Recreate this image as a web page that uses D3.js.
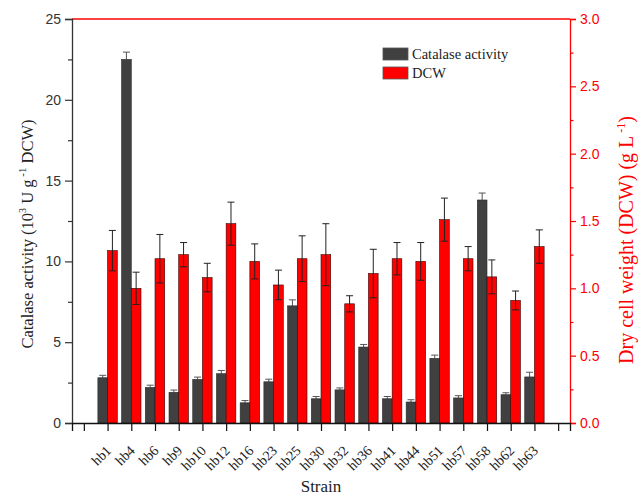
<!DOCTYPE html>
<html>
<head>
<meta charset="utf-8">
<script src="https://cdn.jsdelivr.net/npm/d3@7"></script>
<style>
  body { margin: 0; background: #fff; }
  svg { display: block; }
</style>
</head>
<body>
<svg id="chart" width="640" height="496"></svg>
<script>
// Strains and measured values
const strains = ["hb1","hb4","hb6","hb9","hb10","hb12","hb16","hb23","hb25","hb30","hb32","hb36","hb41","hb44","hb51","hb57","hb58","hb62","hb63"];
const catalase = [2.8, 22.5, 2.2, 1.9, 2.7, 3.05, 1.25, 2.55, 7.25, 1.5, 2.05, 4.7, 1.5, 1.3, 4.0, 1.55, 13.8, 1.75, 2.85];
const catalaseErr = [0.15, 0.45, 0.14, 0.14, 0.14, 0.2, 0.14, 0.16, 0.37, 0.14, 0.12, 0.16, 0.14, 0.14, 0.2, 0.14, 0.43, 0.12, 0.29];
const dcw = [1.28, 1.0, 1.22, 1.25, 1.08, 1.48, 1.2, 1.025, 1.22, 1.25, 0.885, 1.11, 1.22, 1.2, 1.51, 1.22, 1.085, 0.91, 1.31];
const dcwErr = [0.15, 0.12, 0.18, 0.09, 0.106, 0.16, 0.13, 0.11, 0.17, 0.23, 0.06, 0.18, 0.12, 0.14, 0.16, 0.09, 0.126, 0.07, 0.124];
const leftTicks = [0, 5, 10, 15, 20, 25];
const rightTicks = [0, 0.5, 1.0, 1.5, 2.0, 2.5, 3.0];

const svg = d3.select("#chart");
const plot = { left: 72, right: 570, top: 19, bottom: 423 };
const grey = "#333333", red = "#ff0000";
const serif = "'Liberation Serif', 'Times New Roman', serif";
const sans = "Arial, 'Liberation Sans', sans-serif";

// Category positions: one empty slot at each end of the axis
const x = d3.scaleLinear().domain([-0.5, strains.length + 1.5]).range([plot.left, plot.right]);
const yL = d3.scaleLinear().domain([0, 25]).range([plot.bottom, plot.top]);
const yR = d3.scaleLinear().domain([0, 3]).range([plot.bottom, plot.top]);
const barW = 9.7;

// Top frame line
svg.append("line").attr("x1", plot.left).attr("x2", plot.right).attr("y1", plot.top).attr("y2", plot.top)
  .attr("stroke", red).attr("stroke-width", 1.3);

// Bars: catalase left of the tick, DCW right of it
const g = svg.append("g");
strains.forEach((s, i) => {
  const cx = x(i + 1);
  // catalase error bar (upper half)
  g.append("line").attr("x1", cx - barW / 2).attr("x2", cx - barW / 2)
    .attr("y1", yL(catalase[i])).attr("y2", yL(catalase[i] + catalaseErr[i]))
    .attr("stroke", "#555").attr("stroke-width", 1);
  g.append("line").attr("x1", cx - barW / 2 - 3.5).attr("x2", cx - barW / 2 + 3.5)
    .attr("y1", yL(catalase[i] + catalaseErr[i])).attr("y2", yL(catalase[i] + catalaseErr[i]))
    .attr("stroke", "#555").attr("stroke-width", 1);
  g.append("rect").attr("x", cx - barW).attr("y", yL(catalase[i]))
    .attr("width", barW).attr("height", plot.bottom - yL(catalase[i]))
    .attr("fill", "#404040").attr("stroke", "#2a2a2a").attr("stroke-width", 0.6);
  g.append("rect").attr("x", cx).attr("y", yR(dcw[i]))
    .attr("width", barW).attr("height", plot.bottom - yR(dcw[i]))
    .attr("fill", red).attr("stroke", "#3a0000").attr("stroke-width", 0.6);
  // DCW error bar (both directions)
  const ex = cx + barW / 2;
  g.append("line").attr("x1", ex).attr("x2", ex)
    .attr("y1", yR(dcw[i] - dcwErr[i])).attr("y2", yR(dcw[i] + dcwErr[i]))
    .attr("stroke", "#222").attr("stroke-width", 1);
  [dcw[i] - dcwErr[i], dcw[i] + dcwErr[i]].forEach(v => {
    g.append("line").attr("x1", ex - 3.5).attr("x2", ex + 3.5)
      .attr("y1", yR(v)).attr("y2", yR(v)).attr("stroke", "#222").attr("stroke-width", 1);
  });
});

// Left axis
const leftAxis = d3.axisLeft(yL).tickValues(leftTicks).tickSize(7).tickPadding(4);
const gl = svg.append("g").attr("transform", `translate(${plot.left},0)`).call(leftAxis);
gl.select(".domain").attr("stroke", grey).attr("stroke-width", 1.3);
gl.selectAll(".tick line").attr("stroke", grey).attr("stroke-width", 1.2);
gl.selectAll("text").attr("fill", grey).style("font", `14px ${sans}`);
svg.append("g").attr("transform", `translate(${plot.left},0)`)
  .call(d3.axisLeft(yL).tickValues([2.5, 7.5, 12.5, 17.5, 22.5]).tickSize(4).tickFormat(""))
  .call(a => a.select(".domain").remove())
  .selectAll("line").attr("stroke", grey).attr("stroke-width", 1.2);

// Right axis
const rightAxis = d3.axisRight(yR).tickValues(rightTicks).tickSize(6).tickPadding(4).tickFormat(d3.format(".1f"));
const gr = svg.append("g").attr("transform", `translate(${plot.right},0)`).call(rightAxis);
gr.select(".domain").attr("stroke", red).attr("stroke-width", 1.3);
gr.selectAll(".tick line").attr("stroke", red).attr("stroke-width", 1.2);
gr.selectAll("text").attr("fill", red).style("font", `14px ${sans}`);
svg.append("g").attr("transform", `translate(${plot.right},0)`)
  .call(d3.axisRight(yR).tickValues([0.25, 0.75, 1.25, 1.75, 2.25, 2.75]).tickSize(3.5).tickFormat(""))
  .call(a => a.select(".domain").remove())
  .selectAll("line").attr("stroke", red).attr("stroke-width", 1.2);

// Bottom axis
const tickIdx = d3.range(0, strains.length + 2);
const bottomAxis = d3.axisBottom(x).tickValues(tickIdx).tickSize(8).tickFormat("");
const gb = svg.append("g").attr("transform", `translate(0,${plot.bottom})`).call(bottomAxis);
gb.select(".domain").attr("stroke", "#111").attr("stroke-width", 1.3);
gb.selectAll(".tick line").attr("stroke", "#111").attr("stroke-width", 1.2);

// Strain labels rotated
svg.append("g").selectAll("text").data(strains).join("text")
  .attr("transform", (d, i) => `translate(${x(i + 1) + 1},${plot.bottom + 25}) rotate(-45)`)
  .attr("text-anchor", "end").attr("dy", "0.35em")
  .style("font", `14px ${serif}`).attr("fill", "#222")
  .text(d => d);

// Axis titles
svg.append("text").attr("x", 321).attr("y", 492).attr("text-anchor", "middle")
  .style("font", `17px ${serif}`).attr("fill", "#222").text("Strain");

const lt = svg.append("text").attr("transform", "translate(33,234) rotate(-90)").attr("text-anchor", "middle")
  .style("font", `16.5px ${serif}`).attr("fill", "#222");
lt.append("tspan").text("Catalase activity (10");
lt.append("tspan").attr("dy", -7).style("font-size", "10px").text("3");
lt.append("tspan").attr("dy", 7).text(" U g");
lt.append("tspan").attr("dy", -7).style("font-size", "11px").text(" -1");
lt.append("tspan").attr("dy", 7).text(" DCW)");

const rt = svg.append("text").attr("transform", "translate(633,240) rotate(-90)").attr("text-anchor", "middle")
  .style("font", `20px ${serif}`).attr("fill", red);
rt.append("tspan").text("Dry cell weight (DCW) (g L");
rt.append("tspan").attr("dy", -8).style("font-size", "12px").text(" -1");
rt.append("tspan").attr("dy", 8).text(")");

// Legend
const legend = [{label: "Catalase activity", fill: "#404040"}, {label: "DCW", fill: red}];
const lg = svg.append("g").attr("transform", "translate(383,48)");
legend.forEach((d, i) => {
  lg.append("rect").attr("x", 0).attr("y", i * 19).attr("width", 25).attr("height", 12)
    .attr("fill", d.fill).attr("stroke", "#555").attr("stroke-width", 0.8);
  lg.append("text").attr("x", 29).attr("y", i * 19 + 11)
    .style("font", `14.5px ${serif}`).attr("fill", "#222").text(d.label);
});
</script>
</body>
</html>
